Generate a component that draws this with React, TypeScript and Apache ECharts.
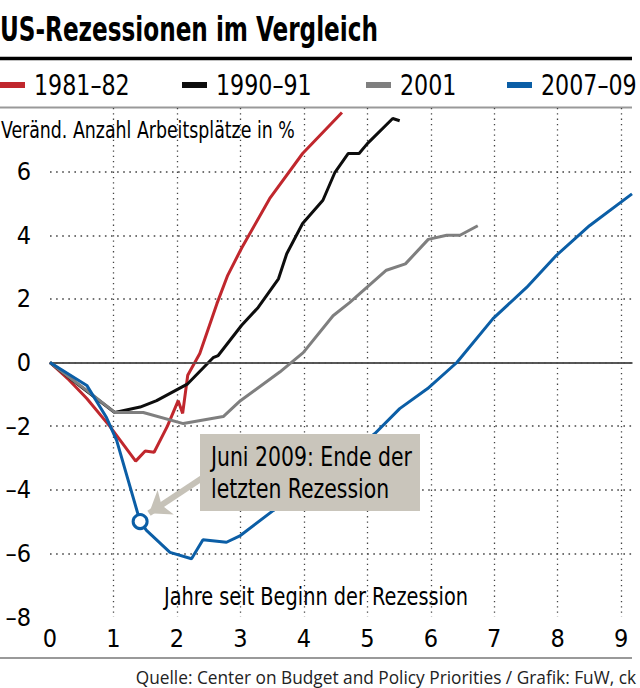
import React, { useEffect, useRef } from "react";
import * as echarts from "echarts";

// Data: [years since start of recession, % change in jobs]
const seriesNames = ["1981–82", "1990–91", "2001", "2007–09"];
const seriesColors = ["#c0272d", "#0d0d0d", "#7f7f7f", "#0b5ea6"];

const rec1981: [number, number][] = [
  [0, 0], [0.3, -0.55], [0.58, -1.13], [0.94, -2.0], [1.35, -3.1], [1.5, -2.78],
  [1.64, -2.82], [1.85, -2.0], [2.02, -1.2], [2.09, -1.6], [2.17, -0.4], [2.36, 0.28],
  [2.63, 1.85], [2.8, 2.74], [3.02, 3.6], [3.46, 5.15], [3.98, 6.57], [4.6, 7.86],
];
const rec1990: [number, number][] = [
  [0, 0], [0.5, -0.78], [1.02, -1.57], [1.42, -1.4], [1.68, -1.2], [2.17, -0.67],
  [2.57, 0.15], [2.65, 0.22], [3.02, 1.17], [3.28, 1.73], [3.6, 2.63], [3.73, 3.42],
  [3.98, 4.37], [4.3, 5.1], [4.49, 5.98], [4.7, 6.57], [4.87, 6.57], [5.0, 6.88],
  [5.4, 7.67], [5.51, 7.6],
];
const rec2001: [number, number][] = [
  [0, 0], [0.58, -0.88], [1.02, -1.57], [1.47, -1.57], [2.1, -1.92], [2.73, -1.7],
  [3.0, -1.2], [3.62, -0.3], [3.99, 0.31], [4.46, 1.47], [4.72, 1.88], [5.3, 2.9],
  [5.6, 3.1], [5.96, 3.87], [6.25, 4.0], [6.46, 4.0], [6.74, 4.3],
];
const rec2007: [number, number][] = [
  [0, 0], [0.58, -0.72], [0.89, -1.73], [1.05, -2.45], [1.42, -5.0], [1.52, -5.28],
  [1.89, -5.97], [2.23, -6.17], [2.41, -5.57], [2.78, -5.65], [3.0, -5.44],
  [3.52, -4.65], [4.0, -3.95], [4.5, -3.2], [5.12, -2.23], [5.51, -1.45],
  [5.95, -0.82], [6.41, 0], [6.98, 1.38], [7.51, 2.36], [7.98, 3.37], [8.5, 4.3],
  [9.17, 5.3],
];
const recessionEnd: [number, number][] = [[1.42, -5.0]];
const arrowFrom: [number, number] = [2.5, -3.5];
const arrowTo: [number, number] = [1.56, -4.74];

const title = "US-Rezessionen im Vergleich";
const yName = "Veränd. Anzahl Arbeitsplätze in %";
const xName = "Jahre seit Beginn der Rezession";
const noteLines = ["Juni 2009: Ende der", "letzten Rezession"];
const source = "Quelle: Center on Budget and Policy Priorities / Grafik: FuW, ck";

const NARROW = "'DejaVu Sans Condensed', 'Liberation Sans Narrow', sans-serif";

export default function App() {
  const ref = useRef<HTMLDivElement>(null);
  useEffect(() => {
    document.body.style.margin = "0";
    if (!ref.current) return;
    const chart = echarts.init(ref.current, undefined, { renderer: "svg" });
    const allData = [rec1981, rec1990, rec2001, rec2007];
    const legendLefts = [0, 182, 366, 507];
    const legendGraphics = seriesNames.flatMap((n, i) => [
      {
        type: "rect",
        shape: { x: legendLefts[i], y: 82, width: 25, height: 6 },
        style: { fill: seriesColors[i] },
      },
      {
        type: "text",
        x: legendLefts[i] + 34,
        y: 85,
        scaleX: 0.85,
        style: { text: n, fontFamily: NARROW, fontSize: 29, fill: "#000", verticalAlign: "middle" },
      },
    ]);
    const option: any = {
      animation: false,
      backgroundColor: "#ffffff",
      grid: { left: 50, right: 8, top: 108, bottom: 71, containLabel: false, outerBoundsMode: "none" },
      xAxis: {
        type: "value",
        min: 0,
        max: 9.17,
        interval: 1,
        axisLine: { show: true, lineStyle: { color: "#333", width: 1.5 } },
        axisTick: { show: false },
        axisLabel: {
          fontFamily: NARROW,
          fontSize: 25,
          color: "#000",
          margin: 9,
          formatter: (v: number) => String(v),
        },
        splitLine: {
          show: true,
          showMinLine: false,
          showMaxLine: false,
          lineStyle: { color: "#444", width: 1.3, type: [1.3, 4] },
        },
      },
      yAxis: {
        type: "value",
        min: -8,
        max: 8,
        interval: 2,
        axisLine: { show: false },
        axisTick: { show: false },
        axisLabel: {
          fontFamily: NARROW,
          fontSize: 25,
          color: "#000",
          margin: 19,
          formatter: (v: number) => (v === 8 ? "" : String(v).replace("-", "\u2013")),
        },
        splitLine: {
          show: true,
          showMinLine: false,
          showMaxLine: false,
          lineStyle: { color: "#444", width: 1.6, type: [1.6, 4.5] },
        },
      },
      series: [
        ...allData.map((d, i) => ({
          name: seriesNames[i],
          type: "line",
          data: d,
          showSymbol: false,
          symbol: "none",
          color: seriesColors[i],
          lineStyle: { color: seriesColors[i], width: 3 },
          z: 3 + i,
          ...(i === 0
            ? {
                markLine: {
                  silent: true,
                  symbol: "none",
                  label: { show: false },
                  lineStyle: { color: "#555", width: 1.5, type: "solid" },
                  data: [{ yAxis: 0 }],
                },
              }
            : {}),
        })),
        {
          name: "Rezessionsende",
          type: "scatter",
          data: recessionEnd,
          symbol: "circle",
          symbolSize: 14,
          z: 10,
          itemStyle: { color: "#ffffff", borderColor: seriesColors[3], borderWidth: 3, opacity: 1 },
          markLine: {
            silent: true,
            symbol: ["none", "arrow"],
            symbolSize: [22, 20],
            label: { show: false },
            lineStyle: { color: "#c6c2b8", width: 6, type: "solid", opacity: 1 },
            data: [[{ coord: arrowFrom }, { coord: arrowTo }]],
          },
        },
      ],
      graphic: [
        {
          type: "text",
          x: 0,
          y: 30,
          scaleX: 0.78,
          style: { text: title, fontFamily: NARROW, fontWeight: "bold", fontSize: 33, fill: "#000", verticalAlign: "middle" },
        },
        { type: "line", shape: { x1: 0, y1: 58.5, x2: 632, y2: 58.5 }, style: { stroke: "#000", lineWidth: 3.5 } },
        ...legendGraphics,
        { type: "line", shape: { x1: 0, y1: 107.5, x2: 632, y2: 107.5 }, style: { stroke: "#999", lineWidth: 2 } },
        { type: "line", shape: { x1: 0, y1: 658, x2: 632, y2: 658 }, style: { stroke: "#999", lineWidth: 2 } },
        {
          type: "text",
          x: 1,
          y: 130,
          z: 20,
          scaleX: 0.84,
          style: { text: yName, fontFamily: NARROW, fontSize: 23, fill: "#000", verticalAlign: "middle" },
        },
        {
          type: "text",
          x: 316,
          y: 596,
          z: 20,
          scaleX: 0.86,
          style: { text: xName, fontFamily: NARROW, fontSize: 25, fill: "#000", align: "center", verticalAlign: "middle" },
        },
        {
          type: "rect",
          z: 30,
          shape: { x: 200, y: 434, width: 220, height: 77 },
          style: { fill: "#c9c5bb" },
        },
        {
          type: "text",
          x: 211,
          y: 457,
          z: 31,
          scaleX: 0.84,
          style: { text: noteLines[0], fontFamily: NARROW, fontSize: 27, fill: "#000", verticalAlign: "middle" },
        },
        {
          type: "text",
          x: 211,
          y: 489,
          z: 31,
          scaleX: 0.84,
          style: { text: noteLines[1], fontFamily: NARROW, fontSize: 27, fill: "#000", verticalAlign: "middle" },
        },
        {
          type: "text",
          x: 636,
          y: 677,
          style: { text: source, fontFamily: "'Open Sans', sans-serif", fontSize: 17.3, fill: "#222", align: "right", verticalAlign: "middle" },
        },
      ],
    };
    chart.setOption(option);
    return () => chart.dispose();
  }, []);
  return <div ref={ref} style={{ position: "absolute", left: 0, top: 0, width: 640, height: 688 }} />;
}
